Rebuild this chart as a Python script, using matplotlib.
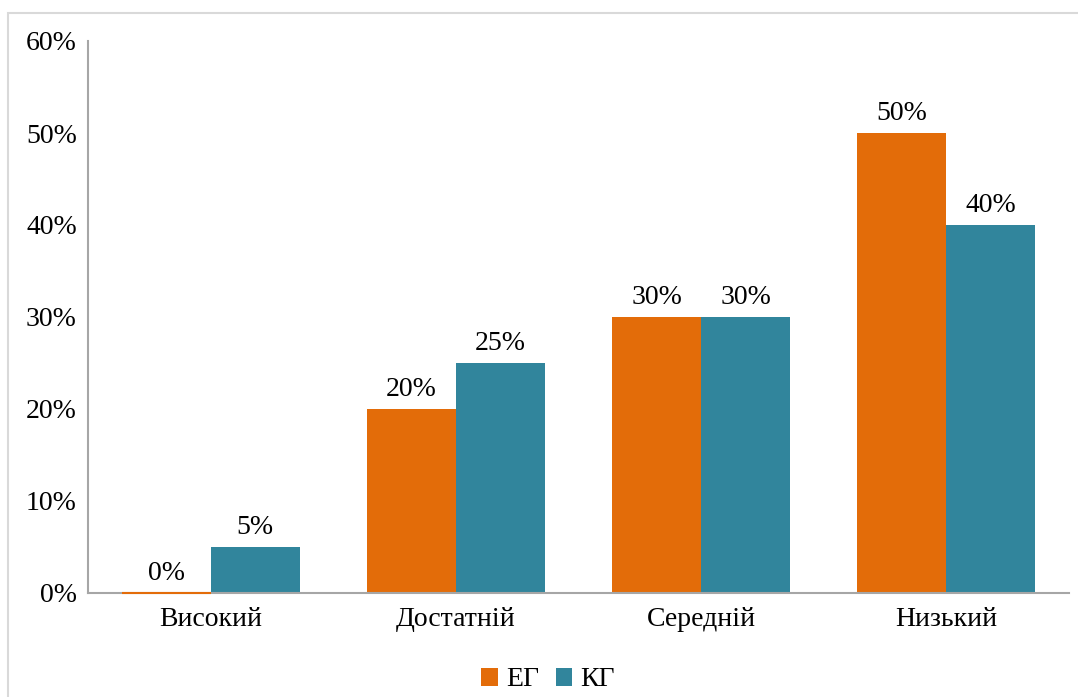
import numpy as np
import matplotlib.pyplot as plt
from matplotlib.patches import Rectangle

# Data
categories = ['Високий', 'Достатній', 'Середній', 'Низький']
eg = [0, 20, 30, 50]
kg = [5, 25, 30, 40]
series_names = ['ЕГ', 'КГ']

plt.rcParams['font.family'] = ['Liberation Serif', 'DejaVu Serif']
FS = 20

fig = plt.figure(figsize=(10.78, 6.97), dpi=100)
ax = fig.add_axes([88 / 1078, 1 - 593 / 697, (1069 - 88) / 1078, (593 - 41) / 697])

# light border around chart area
fig.patches.append(Rectangle((8 / 1078, -0.1), 1.2, 1 - 13 / 697 + 0.1,
                             transform=fig.transFigure, fill=False,
                             edgecolor='#d9d9d9', linewidth=1.5))

x = np.arange(len(categories))
w = 0.363
c_eg = '#E36C09'
c_kg = '#31859C'

b1 = ax.bar(x - w / 2, eg, w, color=c_eg, label=series_names[0])
b2 = ax.bar(x + w / 2, kg, w, color=c_kg, label=series_names[1])

for bars, vals in ((b1, eg), (b2, kg)):
    for b, v in zip(bars, vals):
        ax.annotate('{}%'.format(v), (b.get_x() + b.get_width() / 2, v),
                    xytext=(0, 5), textcoords='offset points',
                    ha='center', va='bottom', fontsize=FS)
# zero-height bar shows as a thin line
ax.plot([x[0] - w, x[0]], [0, 0], color=c_eg, lw=1.5, solid_capstyle='butt',
        zorder=5, clip_on=False)

ax.set_xlim(-0.5, len(categories) - 0.5)
ax.set_ylim(0, 60)
ax.set_yticks(range(0, 61, 10))
ax.set_yticklabels(['{}%'.format(t) for t in range(0, 61, 10)], fontsize=FS)
ax.set_xticks(x)
ax.set_xticklabels(categories, fontsize=FS)
ax.tick_params(length=0)
ax.tick_params(axis='x', pad=10)
ax.tick_params(axis='y', pad=8)

for s in ['top', 'right']:
    ax.spines[s].set_visible(False)
for s in ['left', 'bottom']:
    ax.spines[s].set_color('#a6a6a6')
    ax.spines[s].set_linewidth(1.5)

fig.legend(loc='center', bbox_to_anchor=(548 / 1078, 1 - 680 / 697), ncol=2,
           frameon=False, fontsize=FS, handlelength=0.6, handleheight=0.6,
           handletextpad=0.3, columnspacing=0.6)

fig.savefig('out.png', dpi=100)
